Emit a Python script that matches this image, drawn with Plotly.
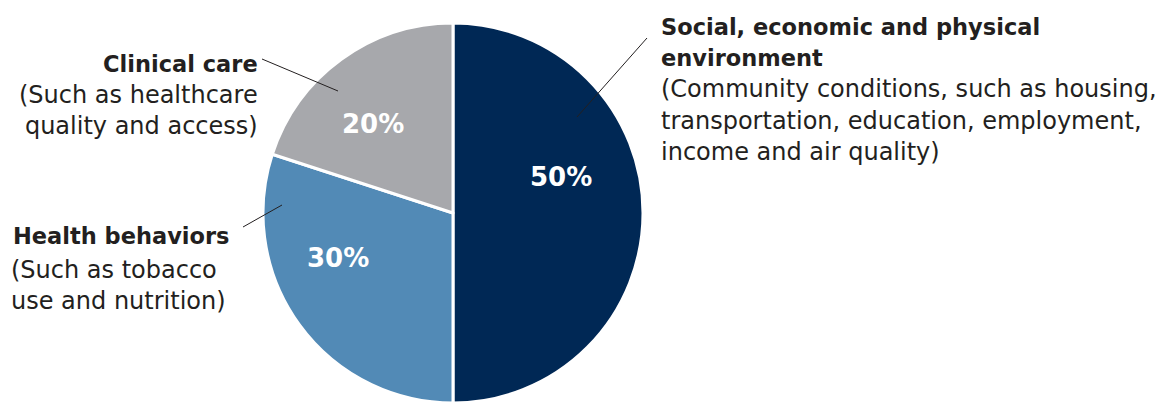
import plotly.graph_objects as go

# ---- data ----
categories = ["Social, economic and physical environment", "Health behaviors", "Clinical care"]
values = [50, 30, 20]
colors = ["#002855", "#528ab6", "#a7a8ac"]

W, H = 1169, 403
FONT = "DejaVu Sans"
TXT = "#231f20"


def px(x):
    return x / W


def py(y):
    return 1 - y / H


fig = go.Figure()
fig.add_trace(go.Pie(
    labels=categories,
    values=values,
    sort=False,
    direction="clockwise",
    rotation=0,
    marker=dict(colors=colors, line=dict(color="white", width=3)),
    textinfo="none",
    hoverinfo="label+percent",
    domain=dict(x=[262 / W, 644 / W], y=[0, 380 / H]),
    showlegend=False,
))

TITLE = '<span style="font-size:22.5px"><b>{}</b></span>'
annotations = [
    dict(x=px(659), y=py(90), xanchor="left", yanchor="middle", align="left",
         text=TITLE.format("Social, economic and physical<br>environment")
         + "<br>(Community conditions, such as housing,<br>transportation, education, employment,<br>income and air quality)"),
    dict(x=px(260), y=py(95), xanchor="right", yanchor="middle", align="right",
         text=TITLE.format("Clinical care") + "<br>(Such as healthcare<br>quality and access)"),
    dict(x=px(232), y=py(236), xanchor="right", yanchor="middle", align="right",
         text=TITLE.format("Health behaviors")),
    dict(x=px(9), y=py(285), xanchor="left", yanchor="middle", align="left",
         text="(Such as tobacco<br>use and nutrition)"),
]
for a in annotations:
    a.update(xref="paper", yref="paper", showarrow=False,
             font=dict(family=FONT, size=24, color=TXT))

# percentage labels inside slices (text from values)
pct_pos = [(561, 177), (338, 258), (373, 124)]
for v, (x, y) in zip(values, pct_pos):
    annotations.append(dict(x=px(x), y=py(y), xref="paper", yref="paper", showarrow=False,
                            xanchor="center", yanchor="middle",
                            text=f"<b>{v}%</b>",
                            font=dict(family=FONT, size=26, color="white")))
fig.update_layout(annotations=annotations)

# leader lines
leaders = [((647, 38), (577, 117)), ((262, 59), (338, 91)), ((243, 227), (282, 205))]
for (x0, y0), (x1, y1) in leaders:
    fig.add_shape(type="line", xref="paper", yref="paper",
                  x0=px(x0), y0=py(y0), x1=px(x1), y1=py(y1),
                  line=dict(color="#231f20", width=1))

fig.update_layout(width=W, height=H, margin=dict(l=0, r=0, t=0, b=0),
                  paper_bgcolor="white", plot_bgcolor="white")
fig.write_html("out.html", config={"displayModeBar": False},
               post_script="document.body.style.margin='0';document.body.style.overflow='hidden';")
